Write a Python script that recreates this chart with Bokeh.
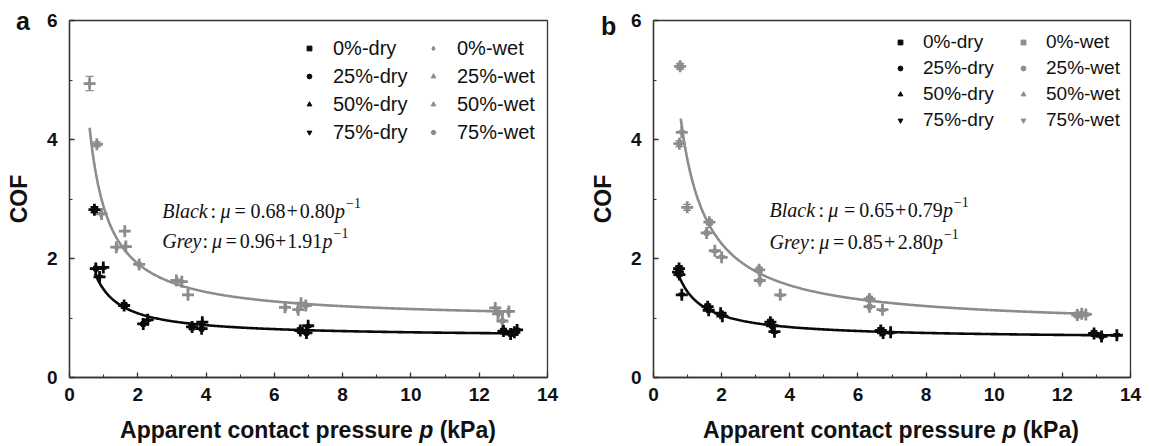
import numpy as np
from bokeh.plotting import figure
from bokeh.layouts import row, column
from bokeh.models import Label, Div, Legend, LegendItem, Whisker, ColumnDataSource, FixedTicker, TeeHead
from bokeh.embed import file_html
from bokeh.resources import INLINE

# ---------------- data ----------------
GROUPS = ["0%", "25%", "50%", "75%"]

# panel a, dry (black)
a_dry_p   = [0.73, 1.60, 3.59, 6.76, 12.71,  0.77, 2.16, 3.87, 6.94, 12.92,  0.99, 2.29, 3.89, 6.99,  0.88, 13.11, 13.03]
a_dry_cof = [2.82, 1.21, 0.85, 0.79, 0.78,   1.83, 0.90, 0.82, 0.75, 0.73,   1.85, 0.97, 0.93, 0.87,  1.69, 0.80, 0.76]
a_dry_grp = ["0%"]*5 + ["25%"]*5 + ["50%"]*4 + ["75%"]*3
# panel a, wet (grey)
a_wet_p   = [0.59, 1.62, 3.47, 6.78, 12.47,  0.80, 1.37, 3.13, 6.31, 12.55,  0.94, 1.65, 3.29, 6.70, 12.87,  2.04, 6.92, 12.68]
a_wet_cof = [4.94, 2.46, 1.39, 1.25, 1.17,   3.92, 2.19, 1.63, 1.18, 1.07,   2.75, 2.20, 1.61, 1.14, 1.11,   1.90, 1.21, 0.95]
a_wet_grp = ["0%"]*5 + ["25%"]*5 + ["50%"]*5 + ["75%"]*3
# panel b, dry (black)
b_dry_p   = [0.75, 1.59, 3.43, 6.67, 12.93,  0.72, 1.62, 3.48, 6.74, 13.15,  0.76, 1.97, 3.55, 6.96,  0.83, 2.02, 13.60]
b_dry_cof = [1.83, 1.19, 0.93, 0.79, 0.74,   1.77, 1.13, 0.87, 0.75, 0.69,   1.73, 1.08, 0.77, 0.76,  1.39, 1.03, 0.71]
b_dry_grp = ["0%"]*5 + ["25%"]*5 + ["50%"]*4 + ["75%"]*3
# panel b, wet (grey)
b_wet_p   = [0.78, 1.64, 3.10, 6.34, 12.44,  0.76, 1.56, 3.12, 6.34, 12.57,  0.99, 1.80, 3.72, 6.72, 12.69,  0.83, 2.00]
b_wet_cof = [5.23, 2.61, 1.81, 1.32, 1.05,   3.93, 2.43, 1.63, 1.19, 1.07,   2.86, 2.13, 1.39, 1.14, 1.06,   4.12, 2.02]
b_wet_grp = ["0%"]*5 + ["25%"]*5 + ["50%"]*5 + ["75%"]*2

# error bars visible in the picture (point, cof, half-height)
a_err_grey = ([0.59, 0.80], [4.94, 3.92], [0.12, 0.04])
a_err_black = ([0.73], [2.82], [0.05])
b_err_grey = ([0.78, 0.76, 0.99], [5.23, 3.93, 2.86], [0.05, 0.05, 0.05])
b_err_black = ([0.75], [1.83], [0.04])

# fitted curves  mu = c0 + c1 / p   and the p-span they are drawn on
a_black_fit = (0.68, 0.80); a_black_span = (0.75, 13.15)
a_grey_fit = (0.96, 1.91);  a_grey_span = (0.59, 12.94)
b_black_fit = (0.65, 0.79); b_black_span = (0.76, 13.66)
b_grey_fit = (0.85, 2.80);  b_grey_span = (0.80, 12.82)

x_ticks = [0, 2, 4, 6, 8, 10, 12, 14]
x_minor = [1, 3, 5, 7, 9, 11, 13]
y_ticks = [0, 2, 4, 6]
y_minor = [1, 3, 5]

# ---------------- styling ----------------
BLACK = "#0a0a0a"
GREY = "#8c8c8c"
AXC = "#333333"
H = 405                   # figure height; the x-axis title sits in a Div below
XL_H = 41
FT, FB = 20, 377          # frame top/bottom (page px)
FW = 478                  # frame width (px)
PXU = FW / 14.0
PYU = (FB - FT) / 6.0
SANS = "Liberation Sans"
SERIF = "Liberation Serif"

W_A, W_B = 586, 563
FL_A = 69                 # frame left of panel a (page px)
FL_B = 652                # frame left of panel b (page px)

dry_markers = {"0%": ("square", 0), "25%": ("circle", 0), "50%": ("triangle", 0), "75%": ("inverted_triangle", 0)}
wet_markers_a = {"0%": ("diamond", 0), "25%": ("triangle", np.pi / 2), "50%": ("triangle", -np.pi / 2), "75%": ("hex", 0)}
wet_markers_b = dict(dry_markers)


def make_fig(width, bl, br):
    p = figure(width=width, height=H, x_range=(0, 14), y_range=(0, 6),
               output_backend="svg", toolbar_location=None,
               min_border_left=bl, min_border_right=br, min_border_top=FT,
               min_border_bottom=H - FB)
    p.xgrid.visible = False
    p.ygrid.visible = False
    p.background_fill_color = "white"
    p.border_fill_color = "white"
    p.outline_line_color = AXC
    p.outline_line_width = 1.3
    p.xaxis.ticker = FixedTicker(ticks=x_ticks, minor_ticks=x_minor)
    p.yaxis.ticker = FixedTicker(ticks=y_ticks, minor_ticks=y_minor)
    for ax in (p.xaxis[0], p.yaxis[0]):
        ax.axis_line_color = AXC
        ax.axis_line_width = 1.3
        ax.major_tick_line_color = AXC
        ax.minor_tick_line_color = AXC
        ax.major_tick_line_width = 1.3
        ax.minor_tick_line_width = 1.1
        ax.major_tick_in = 5
        ax.major_tick_out = 0
        ax.minor_tick_in = 3
        ax.minor_tick_out = 0
        ax.major_label_text_font = SANS
        ax.major_label_text_font_style = "bold"
        ax.major_label_text_font_size = "19px"
        ax.major_label_text_color = "#111111"
    p.xaxis.major_label_standoff = 10
    p.yaxis.major_label_standoff = 12
    p.yaxis.axis_label = "COF"
    p.yaxis.axis_label_text_font = SANS
    p.yaxis.axis_label_text_font_style = "bold"
    p.yaxis.axis_label_text_font_size = "23px"
    p.yaxis.axis_label_text_color = "#111111"
    p.yaxis.axis_label_standoff = 12
    return p


def px2x(px, fl):
    return (px - fl) / PXU


def py2y(py):
    return (FB - py) / PYU


def draw_points(p, ps, cofs, grps, color, markers):
    rends = {}
    for g in GROUPS:
        xs = [x for x, gg in zip(ps, grps) if gg == g]
        ys = [y for y, gg in zip(cofs, grps) if gg == g]
        p.scatter(xs, ys, marker="cross", size=12, line_width=2.8, line_color=color)
        m, ang = markers[g]
        rends[g] = p.scatter(xs, ys, marker=m, angle=ang, size=6, fill_color=color, line_color=color)
    return rends


def draw_err(p, err, color):
    xs, ys, es = err
    src = ColumnDataSource(dict(x=xs, lo=[y - e for y, e in zip(ys, es)], hi=[y + e for y, e in zip(ys, es)]))
    w = Whisker(source=src, base="x", lower="lo", upper="hi", dimension="height",
                line_color=color, line_width=1.3,
                upper_head=TeeHead(size=8, line_color=color, line_width=1.3),
                lower_head=TeeHead(size=8, line_color=color, line_width=1.3))
    p.add_layout(w)


def draw_fit(p, fit, span, color):
    pp = np.linspace(span[0], span[1], 400)
    p.line(pp, fit[0] + fit[1] / pp, line_color=color, line_width=2.6)


def add_legend(p, rends, suffix, fl, marker_px, top_py, fsize, item_h, spacing):
    items = [LegendItem(label=f"{g}-{suffix}", renderers=[rends[g]]) for g in GROUPS]
    n = len(items)
    height = n * item_h + (n - 1) * spacing
    vx = marker_px - 6 - fl
    vy = FB - (top_py + height)
    leg = Legend(items=items, location=(vx, vy), orientation="vertical",
                 glyph_width=12, glyph_height=item_h, label_height=item_h,
                 label_standoff=int(fsize * 0.9), spacing=spacing, padding=0, margin=0,
                 background_fill_alpha=0, border_line_alpha=0,
                 label_text_font=SANS, label_text_font_size=f"{fsize}px",
                 label_text_color="#111111")
    p.add_layout(leg)


def label(p, fl, px, py, text, style="normal", size="20px"):
    p.add_layout(Label(x=px2x(px, fl), y=py2y(py), text=text, text_font=SERIF,
                       text_font_style=style, text_font_size=size, text_align="left",
                       text_baseline="alphabetic", text_color="#111111"))


def equation(p, fl, pieces, base_py):
    for text, px, kind in pieces:
        if kind == "s":
            label(p, fl, px, base_py - 8, text, size="14px")
        elif kind == "i":
            label(p, fl, px, base_py, text, style="italic")
        else:
            label(p, fl, px, base_py, text)


def xlabel_div(width, fl_rel):
    html = ('<div style="width:%dpx;margin-left:%dpx;padding-top:11px;text-align:center;'
            'font-family:\'Liberation Sans\',Arial,sans-serif;font-weight:bold;font-size:23px;'
            'line-height:28px;color:#111111;white-space:nowrap;">'
            'Apparent contact pressure <i>p</i> (kPa)</div>') % (FW, fl_rel)
    return Div(text=html, width=width, height=XL_H, margin=0)


SUP = "\u22121"

# ---------------- panel a ----------------
fa = make_fig(W_A, FL_A, W_A - (FL_A + FW))
draw_fit(fa, a_grey_fit, a_grey_span, GREY)
draw_fit(fa, a_black_fit, a_black_span, BLACK)
ra_wet = draw_points(fa, a_wet_p, a_wet_cof, a_wet_grp, GREY, wet_markers_a)
ra_dry = draw_points(fa, a_dry_p, a_dry_cof, a_dry_grp, BLACK, dry_markers)
draw_err(fa, a_err_grey, GREY)
draw_err(fa, a_err_black, BLACK)
add_legend(fa, ra_dry, "dry", FL_A, 309, 36, 20, 24, 4)
add_legend(fa, ra_wet, "wet", FL_A, 433, 36, 20, 24, 4)
equation(fa, FL_A, [("Black", 161.7, "i"), (":", 210, "n"), ("μ", 220, "i"), ("=", 234, "n"),
                    ("0.68", 250, "n"), ("+", 286, "n"), ("0.80", 299.3, "n"), ("p", 334.5, "i"), (SUP, 345.5, "s")], 210)
equation(fa, FL_A, [("Grey", 161.7, "i"), (":", 202, "n"), ("μ", 211.5, "i"), ("=", 225, "n"),
                    ("0.96", 239.3, "n"), ("+", 274.5, "n"), ("1.91", 286.7, "n"), ("p", 322, "i"), (SUP, 333, "s")], 240)

# ---------------- panel b ----------------
fb = make_fig(W_B, FL_B - W_A, W_A + W_B - (FL_B + FW))
draw_fit(fb, b_grey_fit, b_grey_span, GREY)
draw_fit(fb, b_black_fit, b_black_span, BLACK)
rb_wet = draw_points(fb, b_wet_p, b_wet_cof, b_wet_grp, GREY, wet_markers_b)
rb_dry = draw_points(fb, b_dry_p, b_dry_cof, b_dry_grp, BLACK, dry_markers)
draw_err(fb, b_err_grey, GREY)
draw_err(fb, b_err_black, BLACK)
add_legend(fb, rb_dry, "dry", FL_B, 899, 31, 19, 22, 4)
add_legend(fb, rb_wet, "wet", FL_B, 1022, 31, 19, 22, 4)
equation(fb, FL_B, [("Black", 768.3, "i"), (":", 817.3, "n"), ("μ", 827, "i"), ("=", 843, "n"),
                    ("0.65", 858.3, "n"), ("+", 894, "n"), ("0.79", 906.7, "n"), ("p", 942, "i"), (SUP, 953, "s")], 209)
equation(fb, FL_B, [("Grey", 768.3, "i"), (":", 808.5, "n"), ("μ", 818, "i"), ("=", 832, "n"),
                    ("0.85", 846.7, "n"), ("+", 883, "n"), ("2.80", 896.7, "n"), ("p", 932, "i"), (SUP, 943, "s")], 241)

# panel letters (overlaid, absolutely positioned HTML text)
letters_html = ('<div style="position:relative;width:1149px;height:40px;'
                'font-family:\'Liberation Sans\',Arial,sans-serif;font-weight:bold;font-size:25px;'
                'line-height:25px;color:#111111;">'
                '<span style="position:absolute;left:16px;top:9px;">a</span>'
                '<span style="position:absolute;left:601px;top:14px;">b</span></div>')
letters = Div(text=letters_html, width=1149, height=40, margin=0,
              styles={"position": "absolute", "top": "0px", "left": "0px", "pointer-events": "none", "z-index": "5"})

layout = column(row(column(fa, xlabel_div(W_A, FL_A)), column(fb, xlabel_div(W_B, FL_B - W_A))), letters)
open("out.html", "w").write(file_html(layout, INLINE))
